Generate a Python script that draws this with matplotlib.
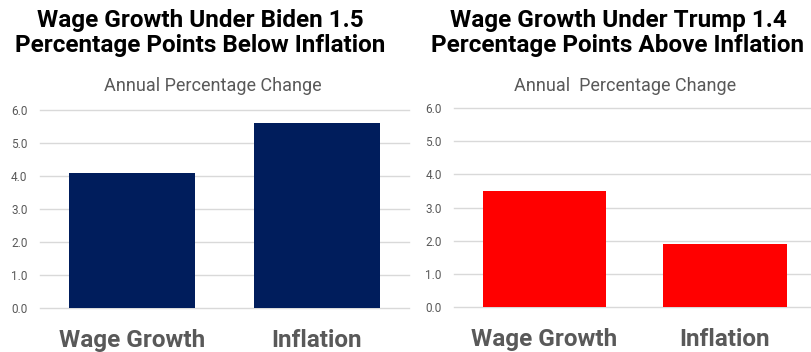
import matplotlib
matplotlib.use('Agg')
import matplotlib.pyplot as plt

# --- data ---
categories = ['Wage Growth', 'Inflation']
biden_values = [4.1, 5.6]
trump_values = [3.5, 1.9]
yticks = [0.0, 1.0, 2.0, 3.0, 4.0, 5.0, 6.0]

plt.rcParams['font.family'] = ['Roboto', 'DejaVu Sans']

fig = plt.figure(figsize=(8.11, 3.52), dpi=100)
fig.patch.set_facecolor('white')

panels = [
    ([0.0493, 0.125, 0.455, 0.5625], biden_values, '#001D5C',
     'Wage Growth Under Biden 1.5\nPercentage Points Below Inflation', 'Annual Percentage Change', 0.247, 0.262),
    ([0.560, 0.128, 0.445, 0.565], trump_values, '#FF0000',
     'Wage Growth Under Trump 1.4\nPercentage Points Above Inflation', 'Annual  Percentage Change', 0.762, 0.771),
]

for rect, vals, color, title, sub, tx, sx in panels:
    ax = fig.add_axes(rect)
    ax.bar(range(len(categories)), vals, width=0.685, color=color, zorder=3)
    ax.set_xlim(-0.5, 1.5)
    ax.set_ylim(0, 6)
    ax.set_yticks(yticks)
    ax.set_yticklabels([f'{v:.1f}' for v in yticks], fontsize=8.5, color='#595959')
    ax.set_xticks(range(len(categories)))
    ax.set_xticklabels(categories, fontsize=17.5, fontweight='bold', color='#595959')
    ax.tick_params(axis='both', length=0)
    ax.tick_params(axis='x', pad=15)
    ax.tick_params(axis='y', pad=9)
    ax.grid(axis='y', color='#d9d9d9', linewidth=1, zorder=0)
    for gl in ax.yaxis.get_gridlines():
        gl.set_clip_on(False)
    for s in ax.spines.values():
        s.set_visible(False)
    fig.text(tx, 0.975, title, ha='center', va='top', fontsize=17.5, fontweight='bold',
             linespacing=1.1)
    fig.text(sx, 0.755, sub, ha='center', va='center', fontsize=13, color='#595959')

fig.savefig('out.png', dpi=100)
